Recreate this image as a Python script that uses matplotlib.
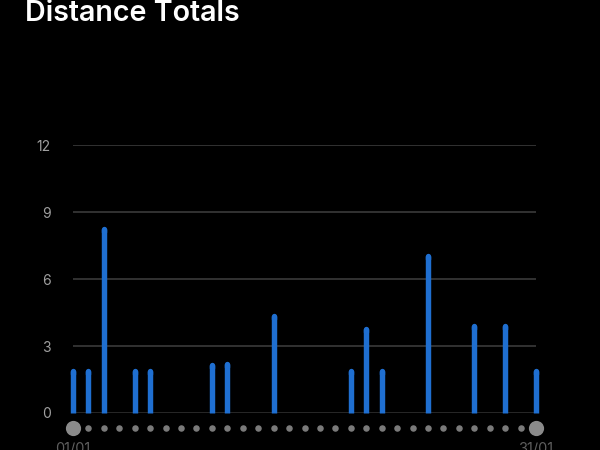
import matplotlib
matplotlib.use("Agg")
import matplotlib.pyplot as plt
from matplotlib.transforms import blended_transform_factory

days = list(range(1, 32))
distance = [2.0, 2.0, 8.36, 0, 2.0, 2.0, 0, 0, 0, 2.26, 2.32, 0, 0, 4.46, 0,
            0, 0, 0, 2.0, 3.87, 2.0, 0, 0, 7.15, 0, 0, 4.0, 0, 4.0, 0, 2.0]
yticks = [0, 3, 6, 9, 12]
title = "Distance Totals"
start_label, end_label = "01/01", "31/01"

W, H = 600, 450
fig = plt.figure(figsize=(6, 4.5), dpi=100, facecolor="black")
ax = fig.add_axes([73 / W, 1 - 413 / H, (536 - 73) / W, (413 - 145) / H])
ax.set_facecolor("black")
ax.set_xlim(1, 31)
ax.set_ylim(0, 12)
for s in ax.spines.values():
    s.set_visible(False)
ax.set_xticks([])
ax.set_yticks(yticks)
ax.tick_params(axis="y", length=0, pad=16, labelsize=10, labelcolor="#a0a0a0")
for t in ax.get_yticklabels():
    t.set_fontfamily("Inter")
for y in yticks:
    ax.axhline(y, color="#3a3a3a" if y else "#2e2e2e", lw=1.2, zorder=1)

blue = "#1f6fd1"
r = 2.7 / 22.33
for d, v in zip(days, distance):
    if v <= 0:
        continue
    ax.vlines(d, 0, v - r, colors=blue, lw=3.9, capstyle="butt", zorder=3, clip_on=False)
    ax.plot([d, d], [v - 2 * r, v - r], color=blue, lw=3.9, solid_capstyle="round",
            zorder=3, clip_on=False)

tr = blended_transform_factory(ax.transData, fig.transFigure)
ydot = 1 - 428 / H
small = days[1:-1]
ax.scatter(small, [ydot] * len(small), s=22, color="#7a7a7a", transform=tr,
           clip_on=False, zorder=4, linewidths=0)
ax.scatter([days[0], days[-1]], [ydot, ydot], s=120, color="#8a8a8a", transform=tr,
           clip_on=False, zorder=4, linewidths=0)

ax.text(days[0], 1 - 453 / H, start_label, transform=tr, ha="center", va="baseline",
        fontsize=10.5, color="#5e5e5e", family="Inter")
ax.text(days[-1], 1 - 453 / H, end_label, transform=tr, ha="center", va="baseline",
        fontsize=10.5, color="#5e5e5e", family="Inter")

fig.text(25 / W, 1 - 21 / H, title, ha="left", va="baseline", fontsize=20.6,
         fontweight="semibold", color="white", family="Inter")

fig.savefig("out.png", dpi=100, facecolor="black")
